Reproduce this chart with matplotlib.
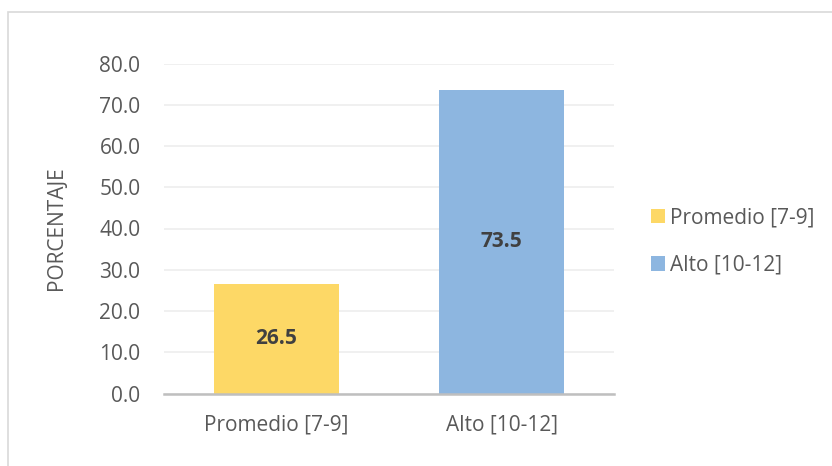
import matplotlib.pyplot as plt
from matplotlib.patches import Rectangle

categorias = ["Promedio [7-9]", "Alto [10-12]"]
porcentajes = [26.5, 73.5]
colores = ["#FDD866", "#8DB6E0"]
yticks = [0, 10, 20, 30, 40, 50, 60, 70, 80]

plt.rcParams['font.family'] = ['Open Sans', 'DejaVu Sans']
txt = "#595959"

fig = plt.figure(figsize=(8.32, 4.66), dpi=100)
# borde del grafico (estilo Excel)
fig.patches.append(Rectangle((8 / 832, -0.1), 1.2, 1.1 - 12 / 466,
                             transform=fig.transFigure, fill=False,
                             edgecolor="#D9D9D9", linewidth=1.2))

ax = fig.add_axes([164 / 832, (466 - 393.5) / 466, 450 / 832, 330 / 466])
x = range(len(categorias))
barras = ax.bar(x, porcentajes, width=0.556, color=colores, label=categorias, zorder=2)

for b, v in zip(barras, porcentajes):
    ax.text(b.get_x() + b.get_width() / 2, v / 2, f"{v:.1f}", ha="center", va="center",
            fontsize=15, fontweight="bold", color="#404040", zorder=3)

ax.set_xlim(-0.5, 1.5)
ax.set_ylim(0, 80)
ax.set_yticks(yticks)
ax.set_yticklabels([f"{t:.1f}" for t in yticks])
ax.set_xticks(list(x))
ax.set_xticklabels(categorias)
ax.tick_params(axis="both", length=0, labelsize=15, labelcolor=txt)
ax.tick_params(axis="y", pad=17)
ax.tick_params(axis="x", pad=15)
ax.grid(axis="y", color="#EDEDED", linewidth=1.2, zorder=0)
for s in ["top", "right", "left"]:
    ax.spines[s].set_visible(False)
ax.spines["bottom"].set_color("#BFBFBF")
ax.spines["bottom"].set_linewidth(1.8)
ax.set_ylabel("PORCENTAJE", fontsize=15, color=txt, labelpad=23)

leg = ax.legend(loc="center left", frameon=False, borderaxespad=0,
                fontsize=15, handlelength=0.67, handleheight=0.67, handletextpad=0.25,
                labelspacing=1.25, labelcolor=txt)
leg.set_bbox_to_anchor((1.064, 0.46), transform=ax.transAxes)

fig.savefig("out.png", dpi=100)
